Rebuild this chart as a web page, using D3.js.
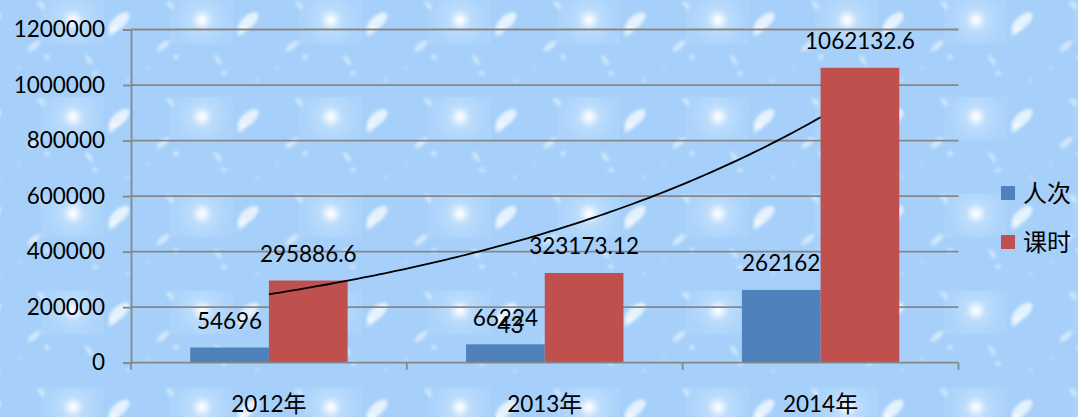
<!DOCTYPE html>
<html>
<head>
<meta charset="utf-8">
<script src="https://cdn.jsdelivr.net/npm/d3@7"></script>
<style>
  html, body { margin: 0; padding: 0; background: #a7d1fa; }
  svg { display: block; }
</style>
</head>
<body>
<div id="chart"></div>
<script>
// ---- data ----
const categories = ["2012年", "2013年", "2014年"];
const seriesNames = ["人次", "课时"];
const personValues = [54696, 66224, 262162];
const hourValues = [295886.6, 323173.12, 1062132.6];
const personLabels = [["54696"], ["66224", "43"], ["262162"]];
const hourLabels = [["295886.6"], ["323173.12"], ["1062132.6"]];
const yTicks = [0, 200000, 400000, 600000, 800000, 1000000, 1200000];
const seriesColors = ["#4f81bd", "#c0504d"];

// ---- layout ----
const W = 1078, H = 417;
const plot = { left: 131, right: 958.5, top: 29.5, bottom: 362.7 };
const numFont = "Lato, 'Liberation Sans', sans-serif";
const cjkFont = "'Noto Sans CJK SC', sans-serif";

const svg = d3.select("#chart").append("svg").attr("width", W).attr("height", H);
const defs = svg.append("defs");

// background texture tile
const sun = defs.append("radialGradient").attr("id", "sun");
sun.append("stop").attr("offset", "0%").attr("stop-color", "#ffffff").attr("stop-opacity", 1);
sun.append("stop").attr("offset", "12%").attr("stop-color", "#ffffff").attr("stop-opacity", 0.8);
sun.append("stop").attr("offset", "40%").attr("stop-color", "#e6f3ff").attr("stop-opacity", 0.28);
sun.append("stop").attr("offset", "100%").attr("stop-color", "#cfe7ff").attr("stop-opacity", 0);
defs.append("filter").attr("id", "blur").attr("x", "-50%").attr("y", "-50%").attr("width", "200%").attr("height", "200%")
  .append("feGaussianBlur").attr("stdDeviation", 1.8);

const pat = defs.append("pattern").attr("id", "bg").attr("patternUnits", "userSpaceOnUse")
  .attr("x", 104).attr("y", 0).attr("width", 129).attr("height", 96.8);
pat.append("rect").attr("width", 129).attr("height", 96.8).attr("fill", "#a6d0fa");
pat.append("rect").attr("x", 66).attr("y", 0).attr("width", 63).attr("height", 44).attr("fill", "#acd4fb");
pat.append("circle").attr("cx", 98).attr("cy", 20).attr("r", 28).attr("fill", "url(#sun)");
const cl = pat.append("g").attr("filter", "url(#blur)").attr("fill", "#ffffff");
cl.append("ellipse").attr("cx", 15).attr("cy", 22).attr("rx", 13).attr("ry", 6).attr("opacity", 0.7).attr("transform", "rotate(-42 15 22)");
cl.append("ellipse").attr("cx", 9).attr("cy", 31).attr("rx", 6).attr("ry", 3).attr("opacity", 0.55).attr("transform", "rotate(-42 9 31)");
cl.append("ellipse").attr("cx", 59).attr("cy", 46).attr("rx", 8).attr("ry", 3).attr("opacity", 0.5).attr("transform", "rotate(-40 59 46)");
cl.append("circle").attr("cx", 72).attr("cy", 57).attr("r", 2.5).attr("opacity", 0.5);
cl.append("ellipse").attr("cx", 114).attr("cy", 60).attr("rx", 6).attr("ry", 2.2).attr("opacity", 0.45).attr("transform", "rotate(55 114 60)");
cl.append("ellipse").attr("cx", 120).attr("cy", 73).attr("rx", 3).attr("ry", 2).attr("opacity", 0.45);
cl.append("ellipse").attr("cx", 66).attr("cy", 5).attr("rx", 5).attr("ry", 2.2).attr("opacity", 0.45).attr("transform", "rotate(50 66 5)");
cl.append("circle").attr("cx", 24).attr("cy", 80).attr("r", 1.5).attr("opacity", 0.45);
cl.append("circle").attr("cx", 44).attr("cy", 68).attr("r", 1.2).attr("opacity", 0.4);

svg.append("rect").attr("width", W).attr("height", H).attr("fill", "url(#bg)");

// ---- scales ----
const y = d3.scaleLinear().domain([0, 1200000]).range([plot.bottom, plot.top]);
const x0 = d3.scaleBand().domain(categories).range([plot.left, plot.right]).paddingInner(0).paddingOuter(0);
const step = x0.bandwidth();
const groupPad = step * 0.2147;
const x1 = d3.scaleBand().domain(seriesNames).range([groupPad, step - groupPad]).padding(0);

// gridlines
const gridG = svg.append("g");
gridG.selectAll("line").data(yTicks.filter(d => d > 0)).join("line")
  .attr("x1", plot.left).attr("x2", plot.right)
  .attr("y1", d => y(d)).attr("y2", d => y(d))
  .attr("stroke", "#878787").attr("stroke-width", 1.8);

// y axis
const yAxis = svg.append("g").attr("transform", `translate(${plot.left},0)`)
  .call(d3.axisLeft(y).tickValues(yTicks).tickSize(8).tickPadding(18).tickFormat(d3.format("d")));
yAxis.select(".domain").attr("stroke", "#878787").attr("stroke-width", 1.8);
yAxis.selectAll(".tick line").attr("stroke", "#878787").attr("stroke-width", 1.8);
yAxis.selectAll(".tick text").attr("font-family", numFont).attr("font-size", 22.5).attr("fill", "#000");

// bars
const groups = svg.append("g").selectAll("g").data(categories).join("g")
  .attr("transform", d => `translate(${x0(d)},0)`);
const barData = (c, i) => [
  { s: seriesNames[0], v: personValues[i], lab: personLabels[i], col: seriesColors[0] },
  { s: seriesNames[1], v: hourValues[i], lab: hourLabels[i], col: seriesColors[1] }
];
groups.selectAll("rect").data(barData).join("rect")
  .attr("x", d => x1(d.s)).attr("width", x1.bandwidth())
  .attr("y", d => y(d.v)).attr("height", d => y(0) - y(d.v))
  .attr("fill", d => d.col);

// x axis
const xAxisG = svg.append("g");
xAxisG.append("line").attr("x1", plot.left).attr("x2", plot.right).attr("y1", y(0)).attr("y2", y(0))
  .attr("stroke", "#878787").attr("stroke-width", 1.8);
const boundaries = categories.map(c => x0(c)).concat([x0(categories[categories.length - 1]) + step]);
xAxisG.selectAll("line.tk").data(boundaries).join("line").attr("class", "tk")
  .attr("x1", d => d).attr("x2", d => d).attr("y1", y(0)).attr("y2", y(0) + 7)
  .attr("stroke", "#878787").attr("stroke-width", 1.8);
xAxisG.selectAll("text").data(categories).join("text")
  .attr("x", d => x0(d) + step / 2).attr("y", 411.5)
  .attr("text-anchor", "middle").attr("font-family", numFont).attr("font-size", 22.5).attr("fill", "#000")
  .each(function(d) {
    const t = d3.select(this);
    t.append("tspan").text(d.replace("年", ""));
    t.append("tspan").attr("font-family", cjkFont).attr("font-size", 23).text("年");
  });

// trendline (exponential least-squares fit of 课时 series, as the chart's trendline)
const xi = hourValues.map((_, i) => i + 1);
const ly = hourValues.map(v => Math.log(v));
const mx = d3.mean(xi), my = d3.mean(ly);
const slope = d3.sum(xi, (v, i) => (v - mx) * (ly[i] - my)) / d3.sum(xi, v => (v - mx) * (v - mx));
const icpt = my - slope * mx;
const xt = d3.scaleLinear().domain([1, categories.length])
  .range([x0(categories[0]) + step / 2, x0(categories[categories.length - 1]) + step / 2]);
const trendPts = d3.range(1, categories.length + 0.001, 0.02).map(t => [xt(t), y(Math.exp(icpt + slope * t))]);
svg.append("path").attr("d", d3.line()(trendPts)).attr("fill", "none").attr("stroke", "#000").attr("stroke-width", 1.8);

// data labels
groups.each(function(c, i) {
  const g = d3.select(this);
  barData(c, i).forEach(d => {
    const cx = x1(d.s) + x1.bandwidth() / 2;
    d.lab.forEach((line, k) => {
      g.append("text").attr("x", cx + (k > 0 ? 5 : 0)).attr("y", y(d.v) - 18.5 + k * 7)
        .attr("text-anchor", "middle").attr("font-family", numFont).attr("font-size", 22.5).attr("fill", "#000")
        .text(line);
    });
  });
});

// legend
const leg = svg.append("g").selectAll("g").data(seriesNames).join("g")
  .attr("transform", (d, i) => `translate(1001, ${186 + i * 49})`);
leg.append("rect").attr("width", 14).attr("height", 14).attr("fill", (d, i) => seriesColors[i]);
leg.append("text").attr("x", 22).attr("y", 7).attr("dy", "0.36em")
  .attr("font-family", cjkFont).attr("font-size", 24).attr("fill", "#000").text(d => d);
</script>
</body>
</html>
